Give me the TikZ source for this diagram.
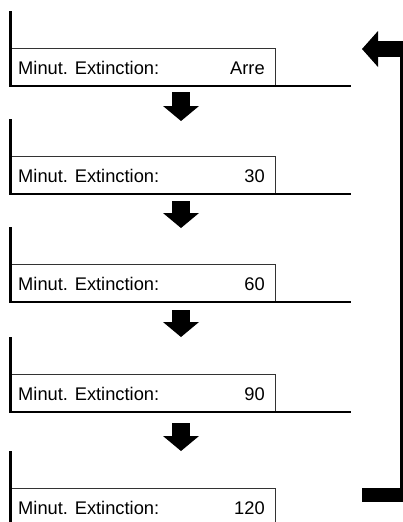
\documentclass[tikz,border=0pt]{standalone}
\usepackage{fontspec}
\setmainfont{Liberation Sans}
\usetikzlibrary{arrows.meta,positioning}
\tikzset{
  frameline/.style = {line width=2.6pt, black},
  valbox/.style    = {draw=black!80, line width=0.9pt, fill=white, inner sep=0pt,
                      minimum width=264.5pt, minimum height=37pt, anchor=north west},
  boxtext/.style   = {font=\fontsize{18.3}{22}\selectfont, inner sep=0pt},
  downarr/.style   = {line width=17.5pt, -{Triangle[length=15pt,width=36pt,line width=0pt]}},
  retarr/.style    = {line width=16pt, -{Triangle[length=16pt,width=36pt,line width=0pt]}}
}

\begin{document}
\begin{tikzpicture}[x=1pt,y=-1pt]
  \useasboundingbox (0,0) rectangle (403,522);
  \clip (0,0) rectangle (403,522);
  % the five screens
  \foreach \n/\yt/\val in {1/10/Arre, 2/118/30, 3/226/60, 4/336/90, 5/450/120} {
    \node[valbox] (box\n) at (10.5,\yt+38) {};
    \node[boxtext,anchor=base west] (lab\n) at ([xshift=7.5pt,yshift=-7.5pt]box\n.west) {Minut. Extinction:};
    \node[boxtext,anchor=base east] (val\n) at ([xshift=-11pt,yshift=-7.5pt]box\n.east) {\val};
    \draw[frameline] (box\n.south west) -- ++(0,-75);
    \draw[frameline] ([xshift=-1.3pt]box\n.south west) -- ++(342,0);
  }
  % steps down
  \foreach \n/\ya/\yb in {1/92/121, 2/201/228, 3/310/337, 4/423/451} {
    \coordinate (arr\n) at (181,\ya);
    \draw[downarr] (arr\n) -- (181,\yb);
  }
  % back to the first screen
  \coordinate (retlow) at (362,495);
  \coordinate (rethigh) at (362,49);
  \draw[line width=14pt] (retlow) -- (404,495);
  \draw[line width=3pt] (401.5,495) -- (401.5,49);
  \draw[retarr] (404,49) -- (rethigh);
\end{tikzpicture}
\end{document}
